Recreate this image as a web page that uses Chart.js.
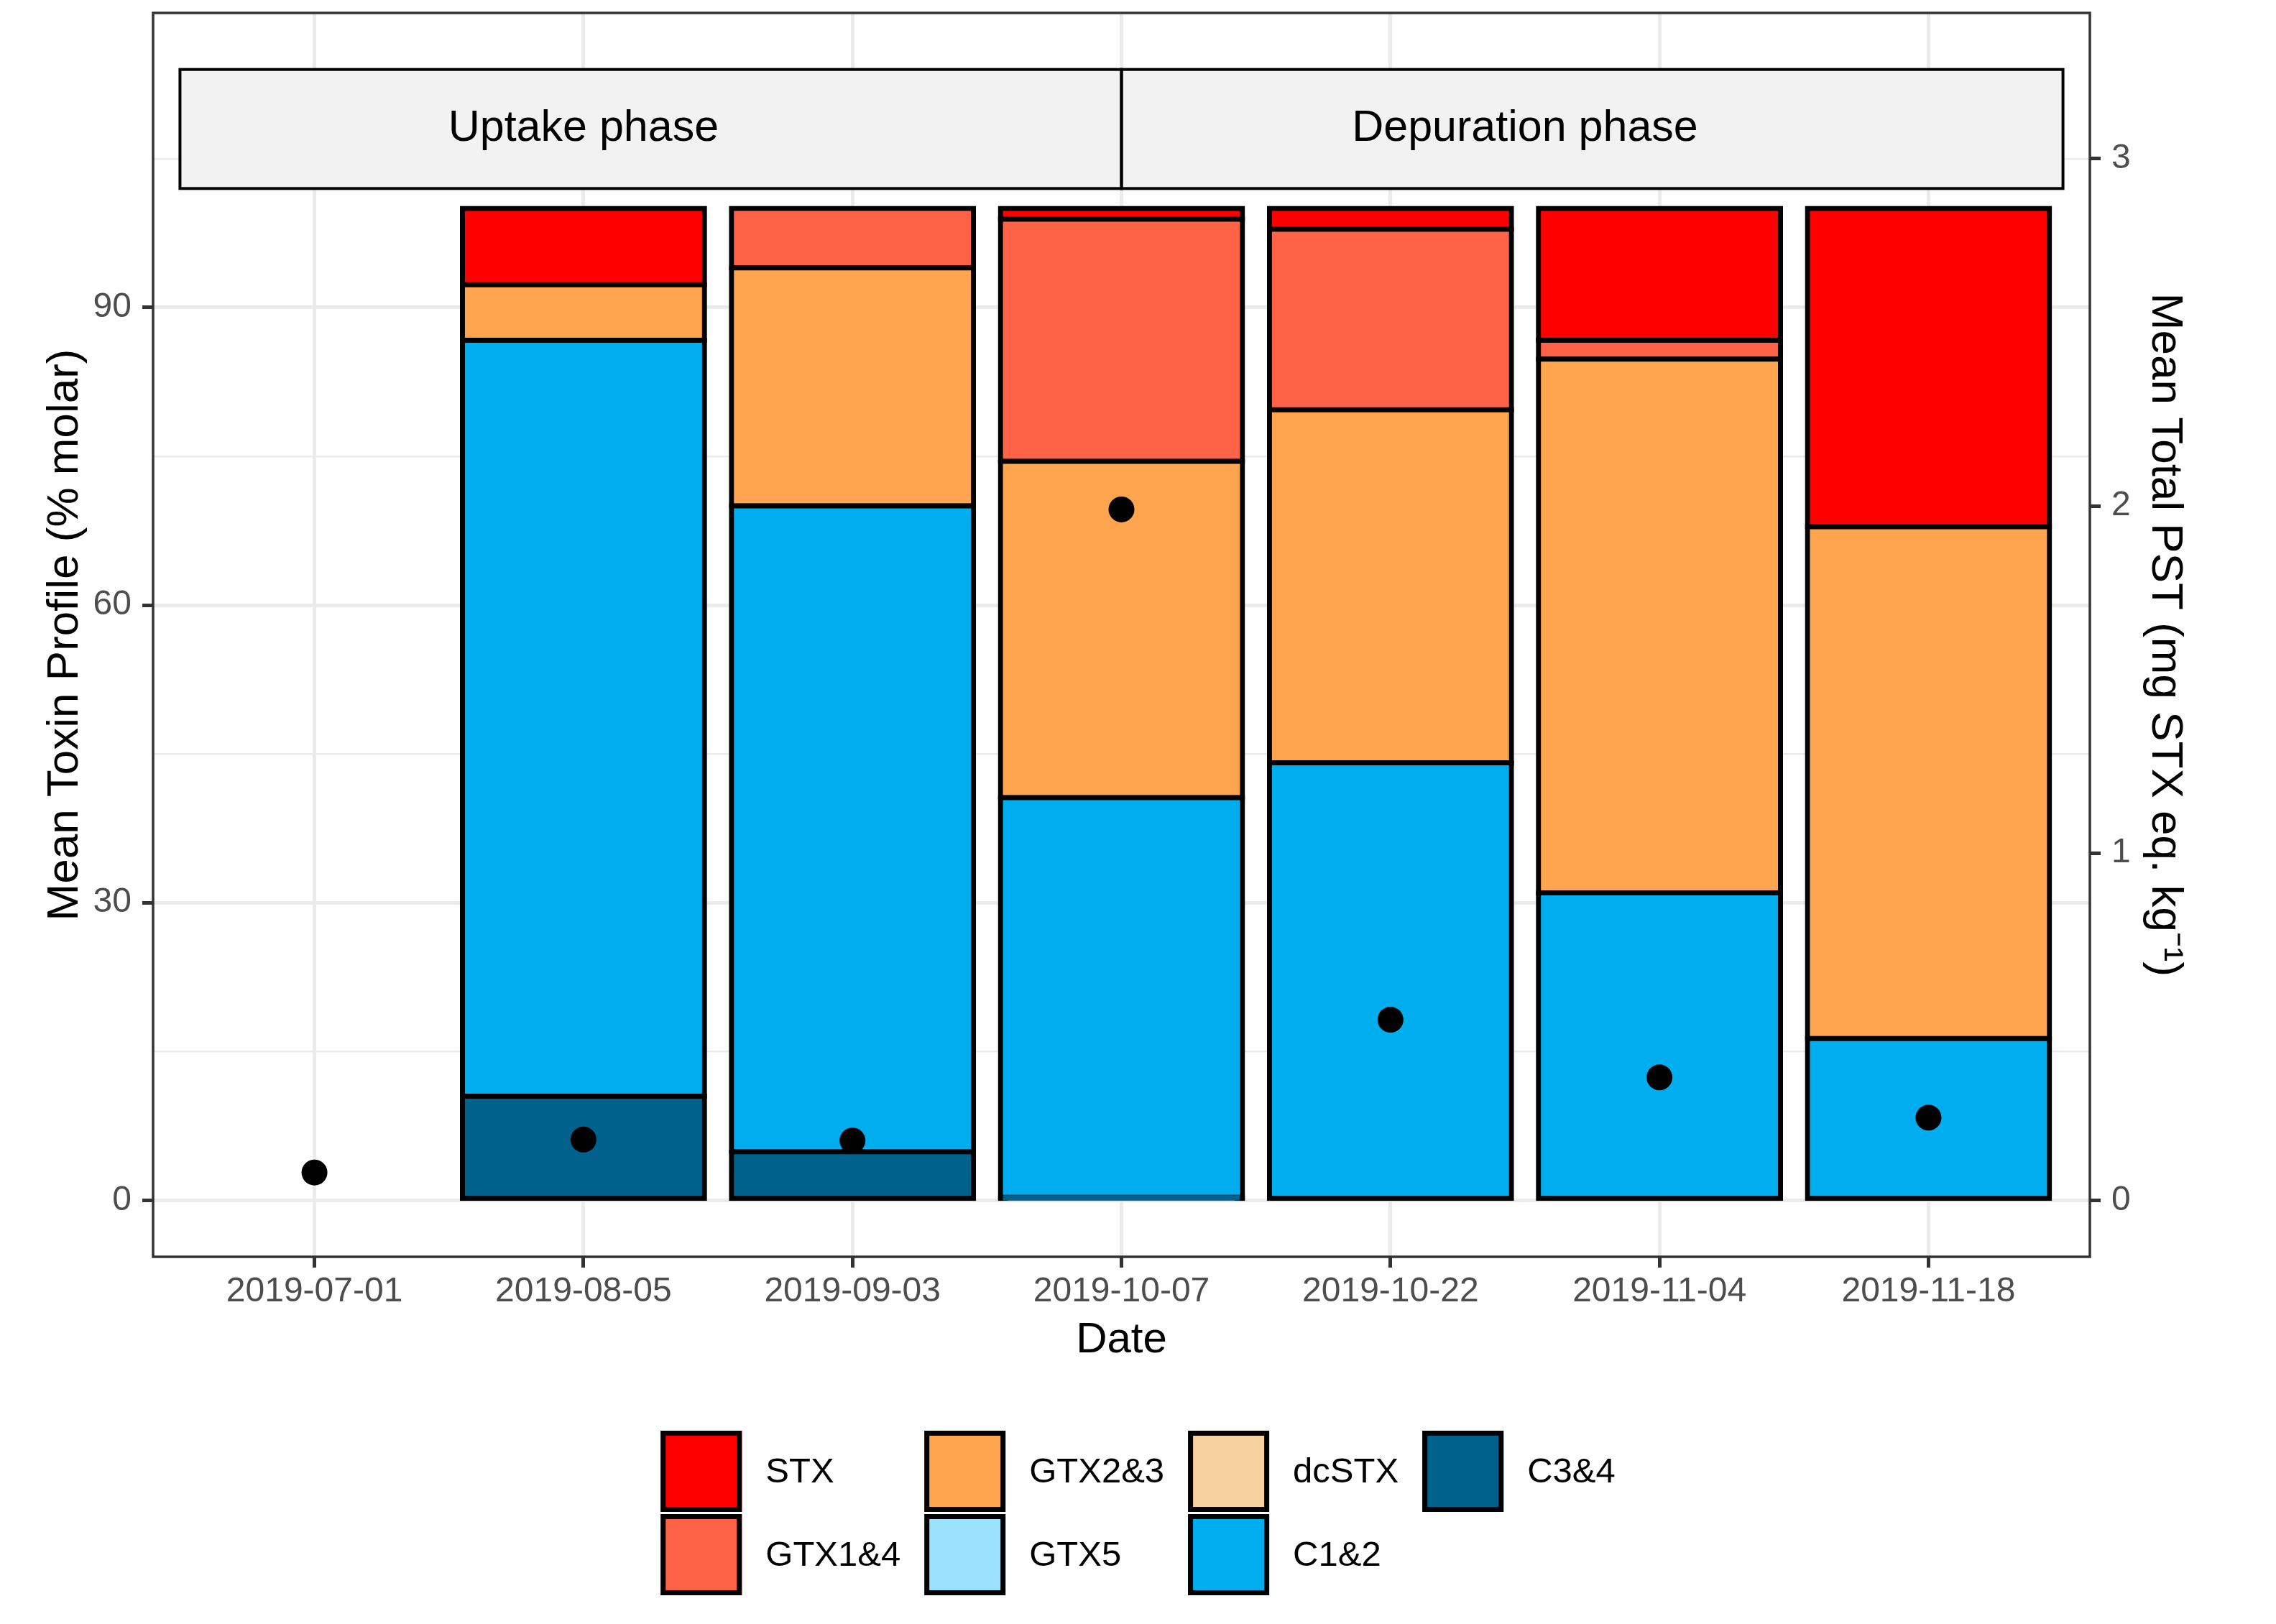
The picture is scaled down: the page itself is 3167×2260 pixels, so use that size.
<!DOCTYPE html>
<html>
<head>
<meta charset="utf-8">
<script src="https://cdn.jsdelivr.net/npm/chart.js@4.4.0/dist/chart.umd.min.js"></script>
<style>
  html, body { margin: 0; padding: 0; background: #ffffff; }
  canvas { display: block; }
</style>
</head>
<body>
<canvas id="chart" width="3167" height="2260"></canvas>
<script>
// Sampling dates (x categories)
const dates = ['2019-07-01','2019-08-05','2019-09-03','2019-10-07','2019-10-22','2019-11-04','2019-11-18'];

// Mean toxin profile (% molar), one array per toxin group
const stx   = [0, 7.7,  0,    1.1,  2.1,  13.3, 32.1];
const gtx14 = [0, 0,    6.0,  24.4, 18.2, 1.9,  0];
const gtx23 = [0, 5.6,  24.0, 33.9, 35.6, 53.8, 51.6];
const gtx5  = [0, 0,    0,    0,    0,    0,    0];
const dcstx = [0, 0,    0,    0,    0,    0,    0];
const c12   = [0, 76.2, 65.1, 40.3, 44.1, 31.0, 16.3];
const c34   = [0, 10.5, 4.9,  0.3,  0,    0,    0];

// Mean total PST (mg STX eq. kg-1), secondary axis
const totalPst = [0.080, 0.175, 0.172, 1.99, 0.52, 0.354, 0.238];

// Legend / stacking order, top of the stack first
const toxinNames   = ['STX','GTX1&4','GTX2&3','GTX5','dcSTX','C1&2','C3&4'];
const toxinValues  = [stx, gtx14, gtx23, gtx5, dcstx, c12, c34];
const toxinColours = ['#FF0000','#FF6347','#FFA54F','#9BE2FF','#F8D1A0','#00AEEF','#00628C'];

const phaseNames = ['Uptake phase','Depuration phase'];

// Layout (not data)
const Y_MIN = -5.7, Y_MAX = 119.7;   // % axis incl. ggplot style expansion
const PST_FACTOR = 35;               // % units per mg on the secondary axis
const phaseEdges = [-0.5, 3, 6.5];   // strip boxes, in x units
const phaseLabelAt = [1, 4.5];
const stripRange = [102, 114];       // strip boxes, in % units
const FONT = '"Liberation Sans", Arial, sans-serif';
const TICK_GREY = '#4D4D4D', DARK = '#333333', GRID = '#EBEBEB';

Chart.defaults.font.family = FONT;

// Build datasets: bars bottom-up so C3&4 sits at the base
const datasets = [];
for (let s = toxinNames.length - 1; s >= 0; s--) {
	datasets.push({
		type: 'bar',
		label: toxinNames[s],
		data: toxinValues[s].map((v, i) => ({x: i, y: (v > 0 ? v : null)})),
		backgroundColor: toxinColours[s],
		borderColor: '#000000',
		borderWidth: 7,
		borderSkipped: false,
		inflateAmount: 3.5,
		barPercentage: 0.9,
		categoryPercentage: 1,
		yAxisID: 'y',
		order: 1
	});
}
datasets.push({
	type: 'scatter',
	label: 'Mean Total PST',
	data: totalPst.map((v, i) => ({x: i, y: v})),
	yAxisID: 'y2',
	pointRadius: 18,
	pointHoverRadius: 18,
	backgroundColor: '#000000',
	borderColor: '#000000',
	borderWidth: 0,
	order: 0
});

// Strip boxes with the phase names
const phaseStrip = {
	id: 'phaseStrip',
	afterDatasetsDraw(chart) {
		const {ctx, scales: {x, y}} = chart;
		const top = y.getPixelForValue(stripRange[1]);
		const bot = y.getPixelForValue(stripRange[0]);
		ctx.save();
		ctx.fillStyle = '#F2F2F2';
		for (let p = 0; p < phaseNames.length; p++) {
			const l = x.getPixelForValue(phaseEdges[p]), r = x.getPixelForValue(phaseEdges[p+1]);
			ctx.fillRect(l, top, r - l, bot - top);
		}
		ctx.strokeStyle = '#000000';
		ctx.lineWidth = 4;
		for (let p = 0; p < phaseNames.length; p++) {
			const l = x.getPixelForValue(phaseEdges[p]), r = x.getPixelForValue(phaseEdges[p+1]);
			ctx.strokeRect(l, top, r - l, bot - top);
		}
		ctx.fillStyle = '#000000';
		ctx.font = '61px ' + FONT;
		ctx.textAlign = 'center';
		ctx.textBaseline = 'middle';
		for (let p = 0; p < phaseNames.length; p++) {
			ctx.fillText(phaseNames[p], x.getPixelForValue(phaseLabelAt[p]), (top + bot) / 2);
		}
		ctx.restore();
	}
};

// Panel border and the 4x2 legend underneath
const frameAndLegend = {
	id: 'frameAndLegend',
	afterDraw(chart) {
		const {ctx, chartArea: a} = chart;
		ctx.save();
		ctx.strokeStyle = DARK;
		ctx.lineWidth = 3.5;
		ctx.strokeRect(a.left, a.top, a.right - a.left, a.bottom - a.top);

		// legend: column-major, two rows
		const box = 113, gap = 33, rowStep = 116, rows = 2;
		const legendTop = chart.scales.x.bottom + 90;
		ctx.font = '49px ' + FONT;
		const cols = Math.ceil(toxinNames.length / rows);
		const colW = [];
		for (let c = 0; c < cols; c++) {
			let w = 0;
			for (let r = 0; r < rows; r++) {
				const k = c * rows + r;
				if (k < toxinNames.length) w = Math.max(w, ctx.measureText(toxinNames[k]).width);
			}
			colW.push(w);
		}
		let total = 0;
		for (let c = 0; c < cols; c++) total += box + gap + colW[c] + (c < cols - 1 ? gap : 0);
		let cx = chart.width / 2 - total / 2;
		ctx.textAlign = 'left';
		ctx.textBaseline = 'middle';
		for (let c = 0; c < cols; c++) {
			for (let r = 0; r < rows; r++) {
				const k = c * rows + r;
				if (k >= toxinNames.length) continue;
				const by = legendTop + r * rowStep;
				ctx.fillStyle = toxinColours[k];
				ctx.fillRect(cx, by, box, box);
				ctx.strokeStyle = '#000000';
				ctx.lineWidth = 7;
				ctx.strokeRect(cx + 3.5, by + 3.5, box - 7, box - 7);
				ctx.fillStyle = '#000000';
				ctx.fillText(toxinNames[k], cx + box + gap, by + box / 2 + 2);
			}
			cx += box + gap + colW[c] + gap;
		}
		ctx.restore();
	}
};

const yTicks = [];
for (let v = 0; v <= Y_MAX; v += 15) yTicks.push({value: v});
const isMajor = (v) => v % 30 === 0;

// fixed axis widths; drop the half-label padding Chart.js adds above/below
const fixWidth = (w) => (s) => { s.width = w; s.paddingTop = 0; s.paddingBottom = 0; };

new Chart(document.getElementById('chart'), {
	type: 'bar',
	data: { datasets: datasets },
	plugins: [phaseStrip, frameAndLegend],
	options: {
		responsive: false,
		devicePixelRatio: 1,
		animation: false,
		layout: { padding: {top: 7, right: 0, bottom: 359, left: 0} },
		plugins: { legend: {display: false}, tooltip: {enabled: false} },
		scales: {
			x: {
				type: 'linear',
				min: -0.6,
				max: 6.6,
				offset: false,
				stacked: true,
				afterBuildTicks: (s) => { s.ticks = dates.map((d, i) => ({value: i})); },
				afterFit: (s) => { s.height = 152; s.paddingLeft = 0; s.paddingRight = 0; },
				grid: { offset: false, color: GRID, lineWidth: 5, tickColor: DARK, tickWidth: 5, tickLength: 15 },
				border: { display: false },
				ticks: {
					autoSkip: false, maxRotation: 0, padding: 5, color: TICK_GREY,
					font: {size: 48},
					callback: (v) => (dates[v] !== undefined ? dates[v] : '')
				},
				title: { display: true, text: 'Date', color: '#000000', font: {size: 60}, padding: {top: 0, bottom: 0} }
			},
			y: {
				type: 'linear',
				position: 'left',
				min: Y_MIN,
				max: Y_MAX,
				stacked: true,
				afterBuildTicks: (s) => { s.ticks = yTicks.map(t => ({value: t.value})); },
				afterFit: fixWidth(213),
				grid: {
					color: GRID,
					lineWidth: (c) => (c.tick && isMajor(c.tick.value) ? 5 : 2.5),
					tickColor: (c) => (c.tick && isMajor(c.tick.value) ? DARK : 'rgba(0,0,0,0)'),
					tickWidth: 5,
					tickLength: 15
				},
				border: { display: false },
				ticks: {
					autoSkip: false, padding: 15, color: TICK_GREY, font: {size: 48},
					callback: (v) => (isMajor(v) ? String(v) : '')
				},
				title: { display: true, text: 'Mean Toxin Profile (% molar)', color: '#000000', font: {size: 62}, padding: {top: 54, bottom: 0} }
			},
			y2: {
				type: 'linear',
				position: 'right',
				min: Y_MIN / PST_FACTOR,
				max: Y_MAX / PST_FACTOR,
				afterBuildTicks: (s) => { s.ticks = [0, 1, 2, 3].map(v => ({value: v})); },
				afterFit: fixWidth(259),
				grid: { drawOnChartArea: false, tickColor: DARK, tickWidth: 5, tickLength: 15 },
				border: { display: false },
				ticks: { autoSkip: false, padding: 15, color: TICK_GREY, font: {size: 48} },
				title: { display: true, text: 'Mean Total PST (mg STX eq. kg\u207B\u00B9)', color: '#000000', font: {size: 62}, padding: {top: 118, bottom: 0} }
			}
		}
	}
});
</script>
</body>
</html>
